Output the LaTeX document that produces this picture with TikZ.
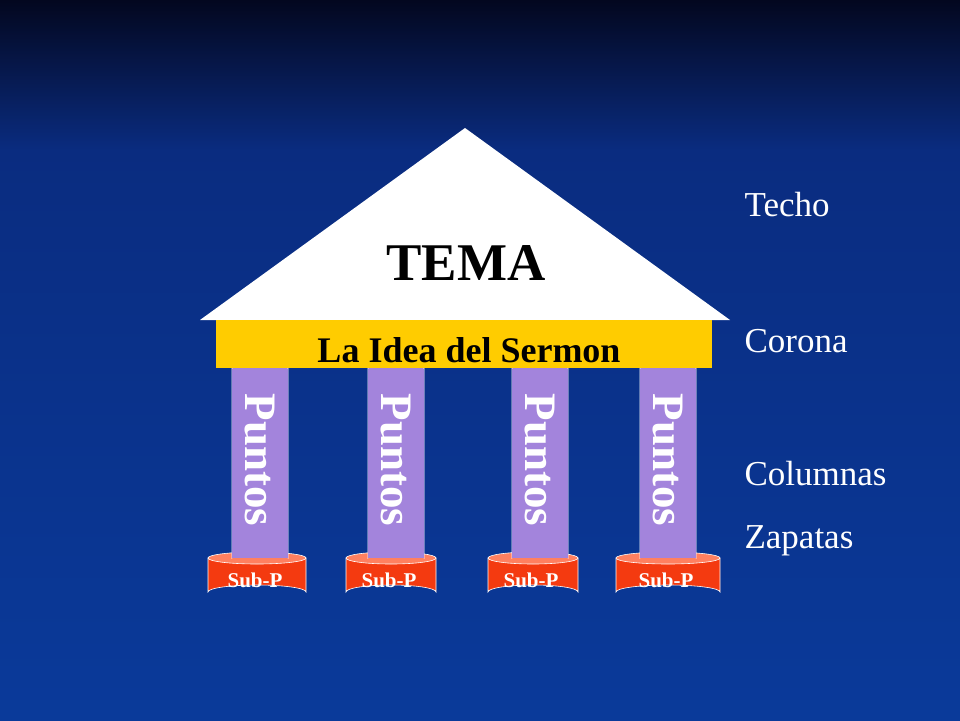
\documentclass[tikz,border=0pt]{standalone}
\usepackage{fontspec}
\setmainfont{Liberation Serif}
\begin{document}
\begin{tikzpicture}[x=1pt,y=-1pt,
  lbl/.style={text=white,font=\fontsize{35}{35}\selectfont,anchor=west},
  col/.style={fill=colpurple,draw=white,line width=0.6pt},
  pt/.style={text=white,font=\bfseries\fontsize{45}{45}\selectfont,rotate=-90},
  sub/.style={text=white,font=\bfseries\fontsize{21}{21}\selectfont}]
\definecolor{colpurple}{HTML}{A384DC}
\definecolor{bgtop}{HTML}{03071F}
\definecolor{bgmid}{HTML}{0A2C80}
\definecolor{bgbot}{HTML}{0A3A9A}
\definecolor{cylred}{HTML}{F43A10}
\definecolor{cyltop}{HTML}{FF8060}
\definecolor{gold}{HTML}{FFCC00}
\useasboundingbox (0,0) rectangle (960,720);
\shade[top color=bgtop,bottom color=bgmid] (0,0) rectangle (960,150.5);
\shade[top color=bgmid,bottom color=bgbot] (0,150) rectangle (960,720);
% roof
\fill[white] (465,128) coordinate (apex) -- (730,320) -- (200,320) -- cycle;
\node[font=\bfseries\fontsize{53}{53}\selectfont] (tema) at (466,263) {TEMA};
% corona
\fill[gold] (216,320) rectangle (712,368);
\node[font=\bfseries\fontsize{36}{36}\selectfont] (idea) at (469,350) {La Idea del Sermon};
% columns and bases
\foreach \cx/\bl/\br/\i in {260/208/306/1,396/346/436/2,540/488/578/3,668/616/720/4}{
  \pgfmathsetmacro\bc{(\bl+\br)/2}
  \pgfmathsetmacro\rx{(\br-\bl)/2}
  \fill[cylred,draw=white,line width=0.6pt] (\bl,558) -- (\bl,592) arc[start angle=180,end angle=360,x radius=\rx,y radius=7] -- (\br,558) -- cycle;
  \fill[cyltop,draw=white,line width=0.6pt] (\bc,558) ellipse[x radius=\rx,y radius=6];
  \draw[col] (\cx-28,368) -- (\cx-28,558) arc[start angle=180,end angle=360,x radius=28,y radius=4] -- (\cx+28,368);
  \fill[colpurple] (\cx-27.7,368.5) rectangle (\cx+27.7,558);
  \node[pt] (p\i) at (\cx,460) {Puntos};
  \node[sub] (s\i) at (\bc-2,580) {Sub-P};
}
\node[lbl] (techo) at (741,205) {Techo};
\node[lbl] (corona) at (741,341) {Corona};
\node[lbl] (columnas) at (741,474) {Columnas};
\node[lbl] (zapatas) at (741,541) {Zapatas};
\end{tikzpicture}
\end{document}
